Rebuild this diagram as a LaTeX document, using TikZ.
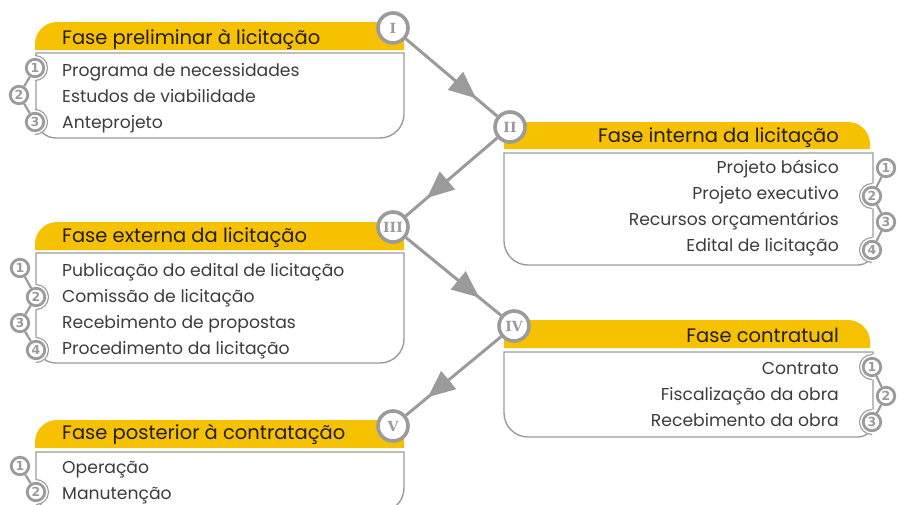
\documentclass[tikz,border=0pt]{standalone}
\usepackage{fontspec}
\setmainfont{Poppins}
\newfontfamily\romanfont{DejaVu Serif}
\newfontfamily\digitfont{DejaVu Sans}
\usetikzlibrary{arrows.meta,decorations.markings}
\definecolor{lgray}{HTML}{9B9B9B}
\definecolor{hyellow}{HTML}{F5C100}
\definecolor{txt}{HTML}{231F20}
\definecolor{itxt}{HTML}{3C3C3C}
\newcommand{\haloL}[1]{\fill[white] (#1) circle[radius=12.5]; \draw[ring] (#1) ++(0,-12.5) arc[start angle=-90,end angle=90,radius=12.5];}
\newcommand{\haloR}[1]{\fill[white] (#1) circle[radius=12.5]; \draw[ring] (#1) ++(0,12.5) arc[start angle=90,end angle=270,radius=12.5];}
\begin{document}
\begin{tikzpicture}[x=1pt,y=-1pt,
  hdrfill/.style={fill=hyellow},
  bodyline/.style={draw=lgray,line width=1.4pt},
  hdrtext/.style={font=\fontsize{19.5}{22}\selectfont, text=txt, inner sep=0},
  itemtext/.style={font=\fontsize{17.2}{20}\selectfont, text=itxt, inner sep=0},
  badge/.style={circle, draw=lgray, fill=white, line width=2.8pt, minimum size=17.5pt, inner sep=0, font=\digitfont\bfseries\fontsize{12.5}{12.5}\selectfont, text=lgray},
  ring/.style={draw=lgray,line width=1.1pt},
  chain/.style={draw=lgray,line width=2.2pt},
  roman/.style={circle, draw=lgray, fill=white, line width=3.6pt, minimum size=30pt, inner sep=0, font=\romanfont\bfseries\fontsize{14}{14}\selectfont, text=lgray},
  conn/.style={draw=lgray,line width=3pt, postaction={decorate}, decoration={markings, mark=at position 0.77 with {\arrow{Triangle[length=27pt,width=23pt]}}}}
]
\useasboundingbox (0,0) rectangle (897,504);
\clip (0,0) rectangle (897,504);

% ---------- Box 1 ----------
\fill[hdrfill] (35,50) -- (35,44) arc[start angle=180,end angle=270,radius=22] -- (404,22) -- (404,50) -- cycle;
\draw[bodyline] (36,53) -- (404,53) -- (404,114) arc[start angle=0,end angle=90,radius=24] -- (56,138) arc[start angle=90,end angle=180,radius=20] -- cycle;
\haloL{35,68} \haloL{35,122}
\node[badge] (b11) at (35,68) {1};
\node[badge] (b12) at (19,95) {2};
\node[badge] (b13) at (35,122) {3};
\draw[chain] (b11) -- (b12) -- (b13);
\node[hdrtext, anchor=base west] (h1) at (62,44) {Fase preliminar à licitação};
\node[itemtext, anchor=base west] (i11) at (62,76) {Programa de necessidades};
\node[itemtext, anchor=base west] (i12) at (62,102) {Estudos de viabilidade};
\node[itemtext, anchor=base west] (i13) at (62,128) {Anteprojeto};

% ---------- Box 2 ----------
\fill[hdrfill] (504,149) -- (504,122) -- (848,122) arc[start angle=270,end angle=360,radius=22] -- (870,149) -- cycle;
\draw[bodyline] (504,153) -- (873,153) -- (873,250) arc[start angle=0,end angle=90,radius=15] -- (528,265) arc[start angle=90,end angle=180,radius=24] -- cycle;
\haloR{872,196} \haloR{872,250}
\node[badge] (b21) at (886,168) {1};
\node[badge] (b22) at (872,196) {2};
\node[badge] (b23) at (886,222) {3};
\node[badge] (b24) at (872,250) {4};
\draw[chain] (b21) -- (b22) -- (b23) -- (b24);
\node[hdrtext, anchor=base east] (h2) at (839,142) {Fase interna da licitação};
\node[itemtext, anchor=base east] (i21) at (839,173) {Projeto básico};
\node[itemtext, anchor=base east] (i22) at (839,199) {Projeto executivo};
\node[itemtext, anchor=base east] (i23) at (839,225) {Recursos orçamentários};
\node[itemtext, anchor=base east] (i24) at (839,251) {Edital de licitação};

% ---------- Box 3 ----------
\fill[hdrfill] (35,250) -- (35,244) arc[start angle=180,end angle=270,radius=22] -- (404,222) -- (404,250) -- cycle;
\draw[bodyline] (36,253) -- (404,253) -- (404,339) arc[start angle=0,end angle=90,radius=24] -- (56,363) arc[start angle=90,end angle=180,radius=20] -- cycle;
\haloL{36,297} \haloL{36,350}
\node[badge] (b31) at (20,268) {1};
\node[badge] (b32) at (36,297) {2};
\node[badge] (b33) at (20,323) {3};
\node[badge] (b34) at (36,350) {4};
\draw[chain] (b31) -- (b32) -- (b33) -- (b34);
\node[hdrtext, anchor=base west] (h3) at (62,242) {Fase externa da licitação};
\node[itemtext, anchor=base west] (i31) at (62,276) {Publicação do edital de licitação};
\node[itemtext, anchor=base west] (i32) at (62,302) {Comissão de licitação};
\node[itemtext, anchor=base west] (i33) at (62,328) {Recebimento de propostas};
\node[itemtext, anchor=base west] (i34) at (62,354) {Procedimento da licitação};

% ---------- Box 4 ----------
\fill[hdrfill] (504,348) -- (504,320) -- (848,320) arc[start angle=270,end angle=360,radius=22] -- (870,348) -- cycle;
\draw[bodyline] (504,352) -- (873,352) -- (873,422) arc[start angle=0,end angle=90,radius=15] -- (528,437) arc[start angle=90,end angle=180,radius=24] -- cycle;
\haloR{872,367} \haloR{872,422}
\node[badge] (b41) at (872,367) {1};
\node[badge] (b42) at (886,396) {2};
\node[badge] (b43) at (872,422) {3};
\draw[chain] (b41) -- (b42) -- (b43);
\node[hdrtext, anchor=base east] (h4) at (839,342) {Fase contratual};
\node[itemtext, anchor=base east] (i41) at (839,374) {Contrato};
\node[itemtext, anchor=base east] (i42) at (839,400) {Fiscalização da obra};
\node[itemtext, anchor=base east] (i43) at (839,426) {Recebimento da obra};

% ---------- Box 5 ----------
\fill[hdrfill] (35,448) -- (35,442) arc[start angle=180,end angle=270,radius=22] -- (404,420) -- (404,448) -- cycle;
\draw[bodyline] (36,452) -- (404,452) -- (404,488) arc[start angle=0,end angle=90,radius=24] -- (56,512) arc[start angle=90,end angle=180,radius=20] -- cycle;
\haloL{36,492}
\node[badge] (b51) at (20,466) {1};
\node[badge] (b52) at (36,492) {2};
\draw[chain] (b51) -- (b52);
\node[hdrtext, anchor=base west] (h5) at (62,439) {Fase posterior à contratação};
\node[itemtext, anchor=base west] (i51) at (62,473) {Operação};
\node[itemtext, anchor=base west] (i52) at (62,499) {Manutenção};

% ---------- Phase markers ----------
\node[roman] (r1) at (393,28) {I};
\node[roman] (r2) at (510,127) {II};
\node[roman] (r3) at (393,227) {III};
\node[roman] (r4) at (514,326) {IV};
\node[roman] (r5) at (393,426) {V};
\draw[conn] (r1) -- (r2);
\draw[conn] (r2) -- (r3);
\draw[conn] (r3) -- (r4);
\draw[conn] (r4) -- (r5);
\end{tikzpicture}
\end{document}
